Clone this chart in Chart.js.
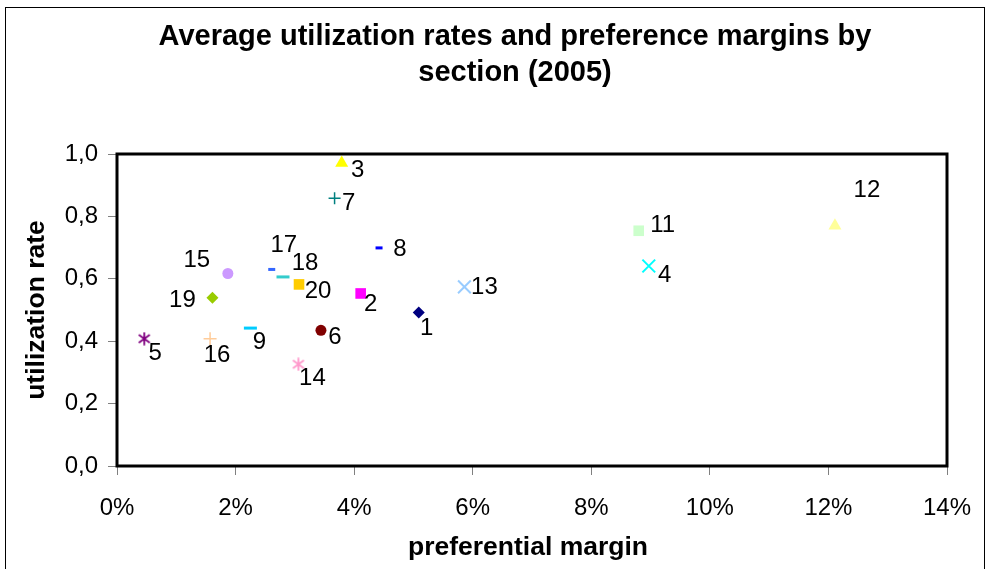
<!DOCTYPE html>
<html>
<head>
<meta charset="utf-8">
<script src="https://cdn.jsdelivr.net/npm/chart.js@4.4.0/dist/chart.umd.min.js"></script>
<style>
html,body{margin:0;padding:0;background:#fff;}
#wrap{width:986px;height:569px;position:relative;}
canvas{display:block;}
</style>
</head>
<body>
<div id="wrap"><canvas id="c" width="986" height="569"></canvas></div>
<script>
// ---- data ----
const sections = ["1","2","3","4","5","6","7","8","9","11","12","13","14","15","16","17","18","19","20"];
const preferentialMargin = [5.09,4.11,3.79,8.97,0.46,3.44,3.67,4.42,2.25,8.80,12.11,5.86,3.06,1.87,1.57,2.61,2.80,1.61,3.07];
const utilizationRate   = [0.492,0.553,0.971,0.641,0.408,0.435,0.858,0.699,0.442,0.754,0.770,0.574,0.326,0.617,0.408,0.630,0.606,0.539,0.582];
const xTicks = [0,2,4,6,8,10,12,14];
const yTicks = [0,0.2,0.4,0.6,0.8,1.0];
const titleLines = ["Average utilization rates and preference margins by","section (2005)"];
const xTitle = "preferential margin";
const yTitle = "utilization rate";

// ---- styles (per point) ----
const markerColor = ["#000080","#FF00FF","#FFFF00","#00FFFF","#800080","#800000","#008080","#0000FF","#00CCFF","#CCFFCC","#FFFF99","#99CCFF","#FF99CC","#CC99FF","#FFCC99","#3366FF","#33CCCC","#99CC00","#FFCC00"];
function asterisk(color){
  const c = document.createElement('canvas');
  c.width = 14; c.height = 14;
  const g = c.getContext('2d');
  g.strokeStyle = color; g.lineWidth = 1.8;
  g.beginPath();
  g.moveTo(7,0.5); g.lineTo(7,13.5);
  g.moveTo(1.5,3); g.lineTo(12.5,11);
  g.moveTo(12.5,3); g.lineTo(1.5,11);
  g.stroke();
  return c;
}
const markerStyle = ["rectRot","rect","triangle","crossRot",asterisk("#800080"),"circle","cross","line","line","rect","triangle","crossRot",asterisk("#FF99CC"),"circle","cross","line","line","rectRot","rect"];
const markerRadius = [6,7.5,7.5,9,7,5.5,6,3.5,6.5,7.5,7.5,9,7,5.5,6.5,3.5,6.5,6,7.5];
const markerBorder = [0,0,0,2,1.5,0,1.5,3,3,0,0,2,1.5,0,1.5,3,3,0,0];
// label offsets (dx, dy) from marker center
const labelOffset = [[8,16],[10,11],[16,7],[16,9],[11,15],[14,7],[14,5],[21,1],[9,14],[24,-5],[32,-35],[20,0],[14,14],[-31,-13],[7,17],[12,-24],[22,-14],[-30,3],[19,7]];

const FONT = "'Liberation Sans', Arial, sans-serif";

const decor = {
  id:'decor',
  beforeDraw(chart){
    const ctx = chart.ctx;
    ctx.save();
    ctx.fillStyle = '#fff';
    ctx.fillRect(0,0,chart.width,chart.height);
    ctx.strokeStyle = '#000';
    ctx.lineWidth = 1;
    ctx.strokeRect(5.5,7.5,979,600);
    ctx.restore();
  },
  afterDatasetsDraw(chart){
    const ctx = chart.ctx;
    const a = chart.chartArea;
    ctx.save();
    ctx.strokeStyle = '#000';
    ctx.lineWidth = 3;
    ctx.strokeRect(a.left, a.top, a.right - a.left, a.bottom - a.top);
    // point labels
    ctx.fillStyle = '#000';
    ctx.font = "24px " + FONT;
    ctx.textAlign = 'center';
    ctx.textBaseline = 'middle';
    const meta = chart.getDatasetMeta(0);
    meta.data.forEach((p, i) => {
      const o = labelOffset[i];
      ctx.fillText(sections[i], p.x + o[0], p.y + o[1]);
    });
    // titles
    ctx.font = "bold 29px " + FONT;
    ctx.fillText(titleLines[0], 515, 37);
    ctx.fillText(titleLines[1], 515, 73);
    ctx.font = "bold 26.5px " + FONT;
    ctx.fillText(xTitle, 528, 548);
    ctx.translate(37, 310);
    ctx.rotate(-Math.PI/2);
    ctx.fillText(yTitle, 0, 0);
    ctx.restore();
  }
};

new Chart(document.getElementById('c'), {
  type: 'scatter',
  data: {
    datasets: [{
      data: preferentialMargin.map((x, i) => ({x: x, y: utilizationRate[i]})),
      pointStyle: markerStyle,
      pointRadius: markerRadius,
      pointHoverRadius: markerRadius,
      pointBackgroundColor: markerColor,
      pointBorderColor: markerColor,
      pointBorderWidth: markerBorder,
      showLine: false
    }]
  },
  plugins: [decor],
  options: {
    responsive: false,
    animation: false,
    events: [],
    layout: { padding: { left: 0, top: 154, right: 39, bottom: 33 } },
    plugins: { legend: { display: false }, tooltip: { enabled: false }, title: { display: false } },
    scales: {
      x: {
        type: 'linear', min: 0, max: 14,
        afterFit(s){ s.height = 70; s.paddingLeft = 0; s.paddingRight = 0; },
        afterBuildTicks(s){ s.ticks = xTicks.map(v => ({value: v})); },
        border: { display: false },
        grid: { drawOnChartArea: false, drawTicks: true, tickLength: 9, tickColor: '#808080', lineWidth: 1 },
        ticks: { color: '#000', font: { family: FONT, size: 24 }, padding: 19, maxRotation: 0, callback: v => v + '%' }
      },
      y: {
        type: 'linear', min: 0, max: 1,
        afterFit(s){ s.width = 117; s.paddingTop = 0; s.paddingBottom = 0; },
        afterBuildTicks(s){ s.ticks = yTicks.map(v => ({value: v})); },
        border: { display: false },
        grid: { drawOnChartArea: false, drawTicks: true, tickLength: 9, tickColor: '#808080', lineWidth: 1 },
        ticks: { color: '#000', font: { family: FONT, size: 24 }, padding: 10, callback: v => v.toFixed(1).replace('.', ',') }
      }
    }
  }
});
</script>
</body>
</html>
